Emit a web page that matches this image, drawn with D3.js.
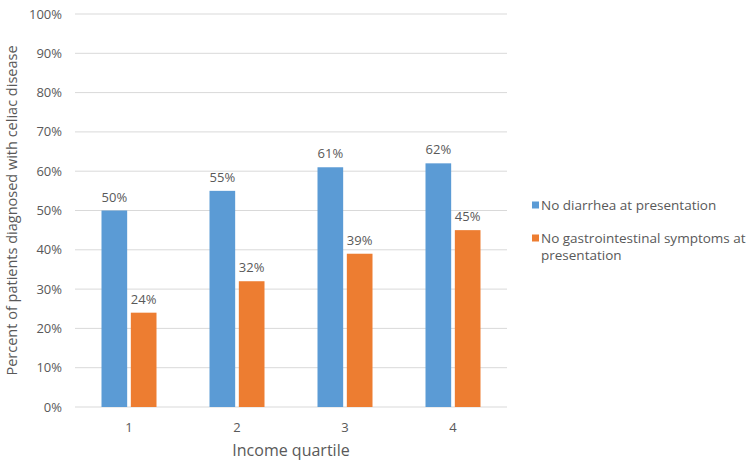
<!DOCTYPE html>
<html><head><meta charset="utf-8">
<script src="https://cdn.jsdelivr.net/npm/d3@7"></script>
<style>body{margin:0;background:#fff}svg{display:block}text{font-family:"Open Sans",sans-serif;fill:#595959}</style>
</head><body><svg id="c" width="752" height="462"></svg>
<script>
const categories = ["1","2","3","4"];
const seriesNames = ["No diarrhea at presentation","No gastrointestinal symptoms at presentation"];
const noDiarrhea = [50,55,61,62];
const noGI = [24,32,39,45];
const yTicks = [0,10,20,30,40,50,60,70,80,90,100];
const colors = ["#5B9BD5","#ED7D31"];

const svg = d3.select("#c");
const m = {l:75, r:245, t:14, b:55};
const W = 752, H = 462;
const x = d3.scaleBand().domain(categories).range([m.l, W-m.r]).paddingInner(0).paddingOuter(0);
const y = d3.scaleLinear().domain([0,100]).range([407, 14]);
const x1 = d3.scaleBand().domain([0,1]).range([0, 55]).paddingInner(0.125);

const g = svg.append("g");
g.selectAll("line.grid").data(yTicks).join("line")
  .attr("x1", m.l).attr("x2", W-m.r).attr("y1", d=>y(d)).attr("y2", d=>y(d))
  .attr("stroke", "#d9d9d9").attr("stroke-width", 1);
g.selectAll("text.yt").data(yTicks).join("text")
  .attr("x", 62).attr("y", d=>y(d)).attr("dy","0.35em").attr("text-anchor","end")
  .attr("font-size", 13).text(d=>d+"%");

const data = categories.map((c,i)=>({c, vals:[noDiarrhea[i], noGI[i]]}));
const grp = g.selectAll("g.cat").data(data).join("g")
  .attr("transform", d=>`translate(${x(d.c)+x.bandwidth()/2-27.5},0)`);
grp.selectAll("rect").data(d=>d.vals.map((v,k)=>({v,k}))).join("rect")
  .attr("x", d=>x1(d.k)).attr("width", x1.bandwidth())
  .attr("y", d=>y(d.v)).attr("height", d=>y(0)-y(d.v))
  .attr("fill", d=>colors[d.k]);
grp.selectAll("text").data(d=>d.vals.map((v,k)=>({v,k}))).join("text")
  .attr("x", d=>x1(d.k)+x1.bandwidth()/2).attr("y", d=>y(d.v)-9)
  .attr("text-anchor","middle").attr("font-size", 13).text(d=>d.v+"%");

g.selectAll("text.xt").data(categories).join("text")
  .attr("x", d=>x(d)+x.bandwidth()/2).attr("y", 432).attr("text-anchor","middle")
  .attr("font-size", 13).text(d=>d);

svg.append("text").attr("x", (m.l+W-m.r)/2).attr("y", 456).attr("text-anchor","middle")
  .attr("font-size", 16).text("Income quartile");
svg.append("text").attr("transform", `translate(17,${(407+14)/2}) rotate(-90)`)
  .attr("text-anchor","middle").attr("font-size", 14.5).text("Percent of patients diagnosed with celiac disease");

const leg = svg.append("g");
const legItems = [
  {lines:["No diarrhea at presentation"], y:205},
  {lines:["No gastrointestinal symptoms at","presentation"], y:238}
];
legItems.forEach((it,i)=>{
  leg.append("rect").attr("x",532).attr("y",it.y-3.5).attr("width",7).attr("height",7).attr("fill",colors[i]);
  it.lines.forEach((t,j)=>{
    leg.append("text").attr("x",541).attr("y",it.y+j*17).attr("dy","0.35em").attr("font-size",13.5).text(t);
  });
});
</script></body></html>
